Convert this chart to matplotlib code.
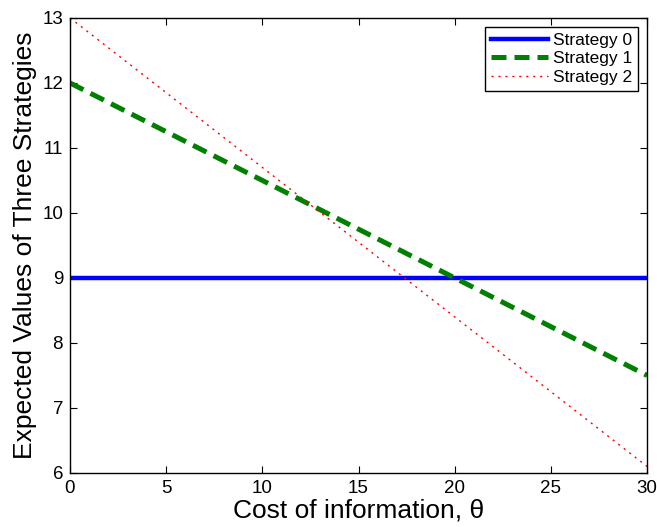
import numpy as np
import matplotlib.pyplot as plt

plt.rcParams['font.family'] = ['Liberation Sans', 'DejaVu Sans']

theta = [0, 30]
strategy0 = [9, 9]
strategy1 = [12, 7.5]
strategy2 = [13, 6.1]
labels = ['Strategy 0', 'Strategy 1', 'Strategy 2']

fig = plt.figure(figsize=(6.57, 5.27), dpi=100)
ax = fig.add_axes([0.1065, 0.1025, 0.8785, 0.8635])

ax.plot(theta, strategy0, '-', color='#0000ff', lw=3.2, label=labels[0])
ax.plot(theta, strategy1, '--', color='#008000', lw=3.6, dashes=(3, 1.6), label=labels[1])
ax.plot(theta, strategy2, color='#ff0000', lw=1.0, dashes=(1.5, 3.5), label=labels[2])

ax.set_xlim(0, 30)
ax.set_ylim(6, 13)
ax.set_xticks(np.arange(0, 31, 5))
ax.set_yticks(np.arange(6, 14, 1))
ax.tick_params(direction='in', top=True, right=True, labelsize=13.5, length=5)
ax.tick_params(axis='x', pad=5)
ax.tick_params(axis='y', pad=5)
for s in ax.spines.values():
    s.set_linewidth(1.0)

ax.set_xlabel('Cost of information, θ', fontsize=19, labelpad=1)
ax.set_ylabel('Expected Values of Three Strategies', fontsize=19, labelpad=4)

leg = ax.legend(loc='upper right', fontsize=12.5, fancybox=False, framealpha=1,
                edgecolor='black', borderaxespad=0.5, handlelength=3.3,
                labelspacing=0.2, borderpad=0.35, handletextpad=0.3)
leg.get_frame().set_linewidth(1.0)

fig.savefig('out.png', dpi=100)
